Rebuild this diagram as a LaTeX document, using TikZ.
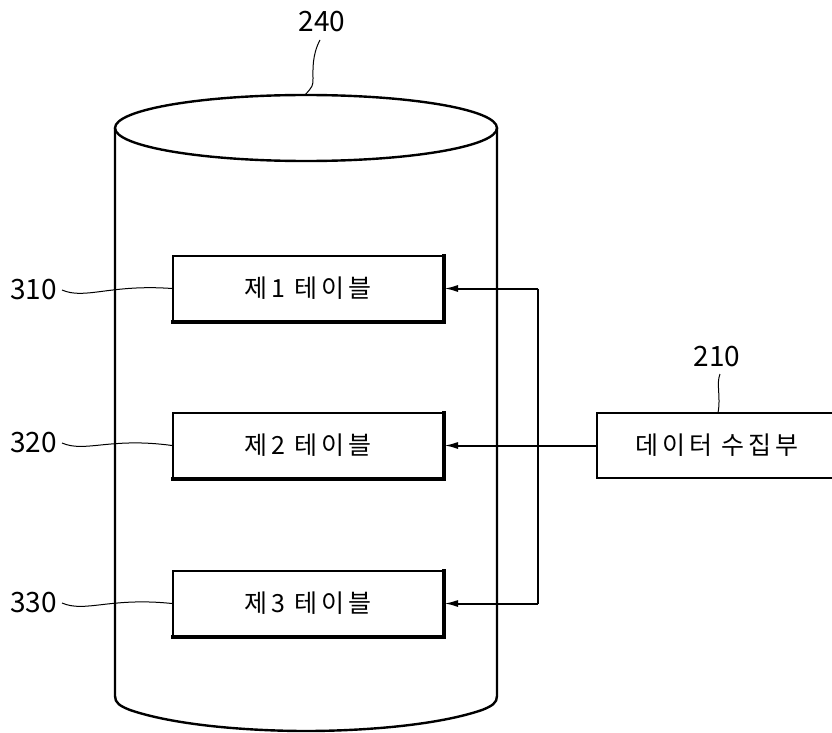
\documentclass[tikz,border=0pt]{standalone}
\usepackage{fontspec}
\usetikzlibrary{arrows.meta}
\newfontfamily\krfont[LetterSpace=16]{Noto Sans CJK KR}
\newfontfamily\numfont{Noto Sans CJK KR}
\begin{document}
\begin{tikzpicture}[x=1pt,y=-1pt,
  outline/.style={line width=2.4pt},
  tablebox/.style={draw,line width=2pt,minimum width=270pt,minimum height=65pt,
    inner sep=0pt,font=\krfont\fontsize{25}{25}\selectfont},
  refnum/.style={font=\numfont\fontsize{28}{28}\selectfont,inner sep=0pt},
  leader/.style={line width=1pt},
  flow/.style={line width=2pt},
  tip/.style={-{Latex[length=14pt,width=7pt]}}]
\useasboundingbox (0,0) rectangle (832,733);

% database cylinder
\draw[outline] (306,128) ellipse[x radius=191, y radius=33];
\draw[outline] (115,128) -- (115,696)
  .. controls (115,703) and (120,706) .. (130,710)
  .. controls (180,727) and (260,731) .. (306,731)
  .. controls (352,731) and (432,727) .. (482,710)
  .. controls (492,706) and (497,703) .. (497,696) -- (497,128);

% tables inside the database
\node[tablebox] (t1) at (308,288.5) {제1 테이블};
\node[tablebox] (t2) at (308,445.5) {제2 테이블};
\node[tablebox] (t3) at (308,603.5) {제3 테이블};
\foreach \t in {t1,t2,t3}
  \draw[line width=4pt] ([yshift=1pt]\t.north east) -- (\t.south east) -- ([xshift=-1pt]\t.south west);

% data collector
\node[draw,line width=2pt,minimum width=240pt,minimum height=65pt,inner sep=0pt,
  font=\krfont\fontsize{25}{25}\selectfont] (dc) at (717,445.5) {데이터 수집부};

% distribution lines
\coordinate (bus1) at (538,288.5);
\coordinate (bus3) at (538,603.5);
\draw[flow] (bus1) -- (bus3);
\draw[flow,tip] (bus1) -- (t1.east);
\draw[flow,tip] (bus3) -- (t3.east);
\draw[flow,tip] (dc.west) -- (t2.east);

% reference numerals
\node[refnum] (n240) at (322,22) {240};
\node[refnum] (n210) at (717,357) {210};
\node[refnum,anchor=west] (n310) at (10,290) {310};
\node[refnum,anchor=west] (n320) at (10,443) {320};
\node[refnum,anchor=west] (n330) at (10,603) {330};

\coordinate (c240) at (305,95);
\coordinate (c210) at (718,413);
\draw[leader] (320,40) .. controls (312,55) and (313,70) .. (313,78) .. controls (313,86) .. (c240);
\draw[leader] (720,374) .. controls (716,384) and (721,396) .. (c210);
\draw[leader] ([xshift=5pt]n310.east) .. controls (85,300) and (110,284) .. (t1.west);
\draw[leader] ([xshift=5pt]n320.east) .. controls (85,453) and (110,437) .. (t2.west);
\draw[leader] ([xshift=5pt]n330.east) .. controls (85,613) and (110,597) .. (t3.west);
\end{tikzpicture}
\end{document}
